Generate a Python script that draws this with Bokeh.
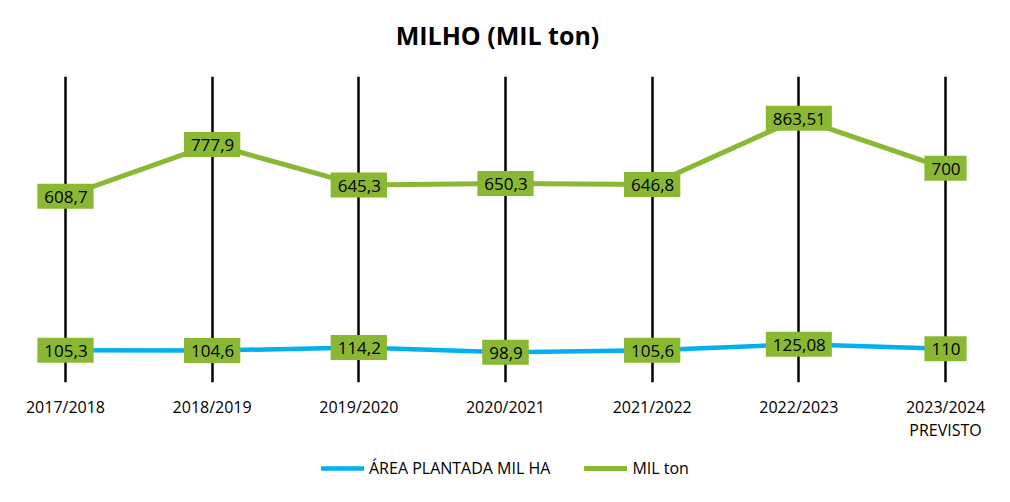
from bokeh.plotting import figure
from bokeh.layouts import column
from bokeh.models import ColumnDataSource, Range1d, FixedTicker, Legend, LegendItem
from bokeh.core.properties import value
from bokeh.embed import file_html
from bokeh.resources import INLINE

title_text = "MILHO (MIL ton)"
categories = ["2017/2018", "2018/2019", "2019/2020", "2020/2021", "2021/2022", "2022/2023", "2023/2024\nPREVISTO"]
area_plantada = [105.3, 104.6, 114.2, 98.9, 105.6, 125.08, 110]
mil_ton = [608.7, 777.9, 645.3, 650.3, 646.8, 863.51, 700]
series_names = ["ÁREA PLANTADA MIL HA", "MIL ton"]

BLUE = "#00B0F0"
GREEN = "#8AB833"
FONT = "Open Sans"

def fmt(v):
    return f"{v:g}".replace(".", ",")

xs = list(range(len(categories)))
src_a = ColumnDataSource(dict(x=xs, y=area_plantada, lab=[fmt(v) for v in area_plantada]))
src_m = ColumnDataSource(dict(x=xs, y=mil_ton, lab=[fmt(v) for v in mil_ton]))

# title strip
pt = figure(width=994, height=76, output_backend="svg", toolbar_location=None,
            min_border=0, x_range=Range1d(0, 1), y_range=Range1d(0, 1))
pt.outline_line_color = None
pt.xaxis.visible = False
pt.yaxis.visible = False
pt.grid.visible = False
pt.text(x=[0.5], y=[0.54], text=[title_text], text_font=value(FONT), text_font_size="25px",
        text_font_style="bold", text_color="#000000", text_align="center", text_baseline="middle")

# main chart
p = figure(width=994, height=368, output_backend="svg", toolbar_location=None, title=None,
           x_range=Range1d(-0.443, 6.334), y_range=Range1d(0, 1000),
           min_border_left=0, min_border_right=0, min_border_top=0, min_border_bottom=62)
p.outline_line_color = None
p.yaxis.visible = False
p.ygrid.visible = False
p.xaxis.ticker = FixedTicker(ticks=xs)
p.xaxis.major_label_overrides = {i: c for i, c in enumerate(categories)}
p.xaxis.axis_line_color = None
p.xaxis.major_tick_line_color = None
p.xaxis.minor_tick_line_color = None
p.xaxis.major_label_text_font = FONT
p.xaxis.major_label_text_font_size = "16px"
p.xaxis.major_label_text_color = "#000000"
p.xaxis.major_label_text_line_height = 1.05
p.xaxis.major_label_standoff = 7
p.xgrid.ticker = FixedTicker(ticks=xs)
p.xgrid.grid_line_color = "#000000"
p.xgrid.grid_line_width = 2.5
p.xgrid.grid_line_alpha = 1

p.line("x", "y", source=src_a, line_color=BLUE, line_width=4.5, line_cap="round", line_join="round")
p.line("x", "y", source=src_m, line_color=GREEN, line_width=5, line_cap="round", line_join="round")

for src in (src_a, src_m):
    p.text("x", "y", text="lab", source=src, text_font=value(FONT), text_font_size="17px",
           text_color="#000000", text_align="center", text_baseline="middle",
           background_fill_color=GREEN, padding=(7, 6, 7, 6))

# legend strip below the chart (same series, drawn out of view; only the legend shows)
pl = figure(width=994, height=42, output_backend="svg", toolbar_location=None,
            min_border=0, x_range=Range1d(-0.443, 6.334), y_range=Range1d(-3, -2))
pl.outline_line_color = None
pl.xaxis.visible = False
pl.yaxis.visible = False
pl.grid.visible = False
la = pl.line("x", "y", source=src_a, line_color=BLUE, line_width=4.5, line_cap="round")
lm = pl.line("x", "y", source=src_m, line_color=GREEN, line_width=5, line_cap="round")
legend = Legend(items=[LegendItem(label=series_names[0], renderers=[la]),
                       LegendItem(label=series_names[1], renderers=[lm])],
                orientation="horizontal", location=(321, 7),
                border_line_color=None, background_fill_alpha=0,
                label_text_font=FONT, label_text_font_size="16px", label_text_color="#000000",
                glyph_width=43, glyph_height=20, label_standoff=5, spacing=34, padding=5, margin=0)
pl.add_layout(legend, "center")

layout = column(pt, p, pl, spacing=0)
open("out.html", "w").write(file_html(layout, INLINE))
